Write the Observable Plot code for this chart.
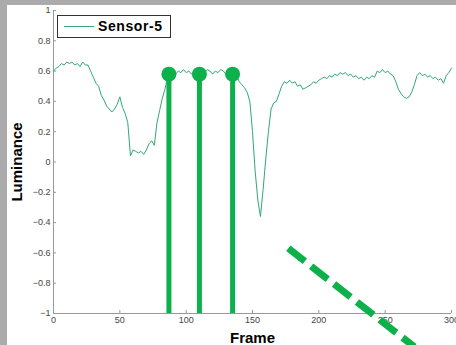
<!DOCTYPE html>
<html>
<head>
<meta charset="utf-8">
<script src="https://cdn.jsdelivr.net/npm/d3@7"></script>
<script src="https://cdn.jsdelivr.net/npm/@observablehq/plot@0.6"></script>
<style>
  html, body { margin: 0; padding: 0; background: #ababab; width: 456px; height: 345px; overflow: hidden; }
  #fig { position: absolute; left: 7px; top: 5px; width: 449px; height: 340px; background: #fff; overflow: hidden; }
  #legend { position: absolute; left: 50px; top: 10px; width: 112px; height: 21px; border: 1px solid #333; background: #fff;
    font-family: "Liberation Sans", Arial, sans-serif; font-weight: bold; font-size: 14px; color: #000; }
  #legend .swatch { position: absolute; left: 6px; top: 10px; width: 30px; height: 0; border-top: 1px solid #30a878; }
  #legend .lab { position: absolute; left: 40px; top: 2px; letter-spacing: 0.6px; }
</style>
</head>
<body>
<div id="fig"></div>
<script>
// Sensor-5 luminance trace (frame, value)
const frames = [0,2,4,6,8,10,12,14,16,18,20,22,24,26,28,30,32,34,36,38,40,42,44,46,48,50,52,54,56,58,60,62,64,66,68,70,72,74,76,78,80,82,84,86,88,90,92,94,96,98,100,102,104,106,108,110,112,114,116,118,120,122,124,126,128,130,132,134,136,138,140,142,144,146,148,150,152,154,156,158,160,162,164,166,168,170,172,174,176,178,180,182,184,186,188,190,192,194,196,198,200,202,204,206,208,210,212,214,216,218,220,222,224,226,228,230,232,234,236,238,240,242,244,246,248,250,252,254,256,258,260,262,264,266,268,270,272,274,276,278,280,282,284,286,288,290,292,294,296,298,300];
const luminance = [0.60,0.62,0.63,0.65,0.64,0.66,0.65,0.66,0.64,0.65,0.63,0.66,0.64,0.64,0.60,0.56,0.52,0.50,0.44,0.41,0.37,0.35,0.33,0.35,0.38,0.43,0.36,0.32,0.26,0.04,0.08,0.07,0.06,0.07,0.05,0.08,0.12,0.14,0.11,0.26,0.34,0.42,0.48,0.56,0.59,0.60,0.58,0.60,0.59,0.61,0.59,0.60,0.58,0.60,0.61,0.59,0.60,0.59,0.61,0.60,0.58,0.60,0.59,0.61,0.60,0.58,0.60,0.59,0.58,0.57,0.53,0.51,0.49,0.46,0.40,0.20,-0.06,-0.25,-0.36,-0.18,0.02,0.20,0.35,0.39,0.40,0.45,0.50,0.53,0.52,0.54,0.52,0.53,0.50,0.51,0.48,0.49,0.50,0.51,0.53,0.52,0.54,0.55,0.56,0.55,0.57,0.56,0.58,0.57,0.59,0.58,0.59,0.57,0.58,0.56,0.57,0.55,0.56,0.54,0.56,0.55,0.57,0.56,0.60,0.59,0.61,0.59,0.60,0.58,0.57,0.53,0.48,0.45,0.43,0.42,0.43,0.46,0.51,0.57,0.59,0.57,0.58,0.56,0.57,0.55,0.56,0.54,0.55,0.52,0.57,0.59,0.62];

// Stem markers
const stemFrames = [87, 110, 135];
const stemValues = [0.58, 0.58, 0.58];
const stemBase = -1;

// Dashed annotation line
const dashFrames = [177, 272];
const dashValues = [-0.57, -1.22];

const xTicks = [0, 50, 100, 150, 200, 250, 300];
const yTicks = [-1, -0.8, -0.6, -0.4, -0.2, 0, 0.2, 0.4, 0.6, 0.8, 1];

const series = frames.map((f, i) => ({frame: f, value: luminance[i]}));
const stems = stemFrames.map((f, i) => ({frame: f, value: stemValues[i]}));
const dash = dashFrames.map((f, i) => ({frame: f, value: dashValues[i]}));

const fmt = d => (Math.abs(d) < 1e-9 ? "0" : String(+d.toFixed(1))).replace("-", "\u2212");

const chart = Plot.plot({
  width: 449,
  height: 340,
  marginLeft: 46,
  marginRight: 5,
  marginTop: 5,
  marginBottom: 32,
  style: {fontFamily: "'Liberation Sans', Arial, sans-serif", background: "transparent", overflow: "visible"},
  x: {domain: [0, 300]},
  y: {domain: [-1, 1]},
  marks: [
    Plot.ruleX([0], {y1: -1, y2: 1, stroke: "#999", strokeWidth: 1}),
    Plot.ruleY([-1], {x1: 0, x2: 300, stroke: "#999", strokeWidth: 1}),
    Plot.axisX({ticks: xTicks, tickSize: -3, stroke: "#999", tickPadding: 6, fontSize: 9, fill: "#444", tickFormat: d => String(d), label: null}),
    Plot.axisY({ticks: yTicks, tickSize: -3, stroke: "#999", tickPadding: 6, fontSize: 9, fill: "#444", tickFormat: fmt, label: null}),
    Plot.text(["Frame"], {frameAnchor: "bottom", dy: 29, fontWeight: "bold", fontSize: 15, fill: "#000"}),
    Plot.text(["Luminance"], {frameAnchor: "left", textAnchor: "middle", dx: -36, rotate: -90, fontWeight: "bold", fontSize: 15, fill: "#000"}),
    Plot.line(series, {x: "frame", y: "value", stroke: "#30a878", strokeWidth: 1}),
    Plot.ruleX(stems, {x: "frame", y1: stemBase, y2: "value", stroke: "#0db14b", strokeWidth: 5}),
    Plot.dot(stems, {x: "frame", y: "value", r: 7.5, fill: "#0db14b", stroke: "none"}),
    Plot.line(dash, {x: "frame", y: "value", stroke: "#0db14b", strokeWidth: 7, strokeDasharray: "21,8", strokeLinecap: "butt", clip: false})
  ]
});
const fig = document.getElementById("fig");
fig.appendChild(chart);
const leg = document.createElement("div");
leg.id = "legend";
leg.innerHTML = '<div class="swatch"></div><div class="lab">Sensor-5</div>';
fig.appendChild(leg);
</script>
</body>
</html>
